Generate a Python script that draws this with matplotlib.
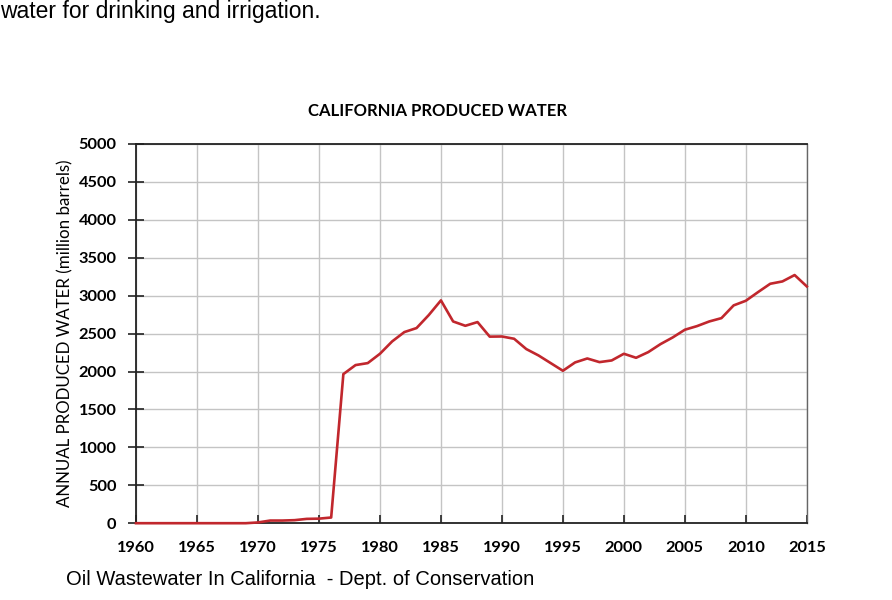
import matplotlib
matplotlib.use('Agg')
import matplotlib.pyplot as plt

years = list(range(1960, 2016))
water = [0, 0, 0, 0, 0, 0, 0, 0, 0, 0,
         10, 35, 35, 40, 57, 60, 75, 1966, 2085, 2111,
         2234, 2397, 2520, 2573, 2744, 2938, 2660, 2603, 2652, 2460,
         2462, 2432, 2296, 2212, 2111, 2010, 2120, 2172, 2124, 2146,
         2234, 2181, 2256, 2361, 2449, 2551, 2599, 2660, 2704, 2872,
         2933, 3047, 3157, 3188, 3272, 3122]

xticks = list(range(1960, 2016, 5))
yticks = list(range(0, 5001, 500))

title = 'CALIFORNIA PRODUCED WATER'
ylabel = 'ANNUAL PRODUCED WATER (million barrels)'
top_text = 'water for drinking and irrigation.'
caption = 'Oil Wastewater In California  - Dept. of Conservation'

fig = plt.figure(figsize=(8.92, 6), dpi=100)
ax = fig.add_axes([0.1525, 0.128, 0.752, 0.632])

ax.plot(years, water, color='#c1272d', lw=1.9, zorder=3, clip_on=False)

ax.set_xlim(1960, 2015)
ax.set_ylim(0, 5000)
ax.set_xticks(xticks)
ax.set_yticks(yticks)
ax.grid(True, color='#c4c4c4', lw=1.0)

for lab in ax.get_xticklabels() + ax.get_yticklabels():
    lab.set_family('Lato')
    lab.set_fontweight('bold')
    lab.set_fontsize(11.8)
ax.tick_params(axis='x', direction='in', length=6, width=1.2, pad=13, color='#222222')
ax.tick_params(axis='y', direction='inout', length=12, width=1.2, pad=8, color='#222222')

for s in ['left', 'bottom', 'top']:
    ax.spines[s].set_color('#222222')
    ax.spines[s].set_linewidth(1.3)
ax.spines['right'].set_color('#666666')
ax.spines['right'].set_linewidth(1.0)

ax.set_ylabel(ylabel, family='Lato', fontsize=12.2)
ax.yaxis.set_label_coords(-0.093, 0.5)

fig.text(0.49, 0.815, title, family='Lato', fontweight='bold', fontsize=12,
         ha='center', va='center')
fig.text(0.0, 1 - 18 / 600, top_text, family='Liberation Sans', fontsize=16.5,
         ha='left', va='baseline')
fig.text(66 / 892, 1 - 585 / 600, caption, family='Liberation Sans', fontsize=14.5,
         ha='left', va='baseline')

plt.savefig('out.png', dpi=100)
